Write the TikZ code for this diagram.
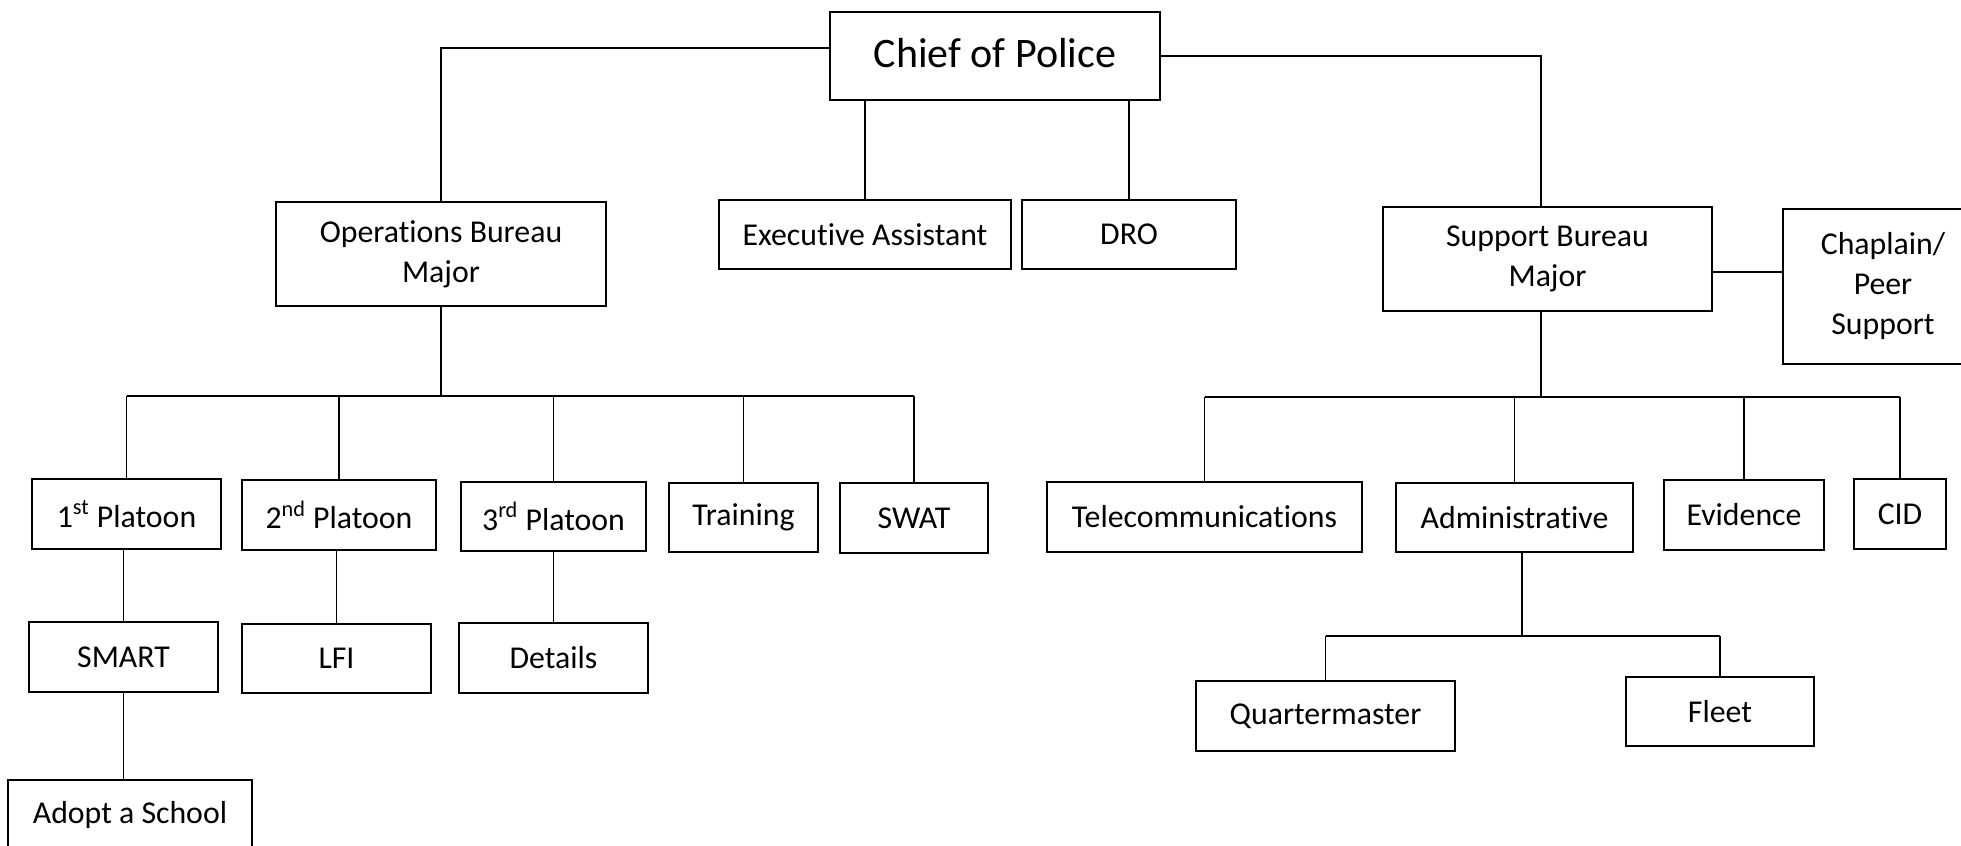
\documentclass[tikz,border=0pt]{standalone}
\usepackage{fontspec}
\setmainfont{Carlito}[Ligatures=NoCommon]
\tikzset{
  unit/.style={draw, line width=1pt, inner sep=0pt, align=center, font=\fontsize{15.9}{20}\selectfont},
  link/.style={line width=0.65pt},
}
\begin{document}
\begin{tikzpicture}[x=0.5pt,y=-0.5pt]
\useasboundingbox (0,0) rectangle (1961,846);
% top level
\node (chief)[unit, minimum width=165pt, minimum height=44pt, font=\fontsize{21}{25}\selectfont] at (995,56) {\raisebox{3.5pt}{Chief of Police}};
\node (ops)[unit, minimum width=165pt, minimum height=52pt] at (441,254) {Operations Bureau\\Major};
\node (exa)[unit, minimum width=146pt, minimum height=34.5pt] at (865,234.5) {Executive Assistant};
\node (dro)[unit, minimum width=107pt, minimum height=34.5pt] at (1129,234.5) {DRO};
\node (sup)[unit, minimum width=164.5pt, minimum height=52pt] at (1547.5,259) {Support Bureau\\Major};
\node (chap)[unit, minimum width=100pt, minimum height=77.5pt] at (1883,286.5) {Chaplain/\\Peer\\Support};

% operations
\node (p1)[unit, minimum width=94.5pt, minimum height=35pt] at (126.5,514) {1\textsuperscript{st} Platoon};
\node (p2)[unit, minimum width=97pt, minimum height=35pt] at (339,515) {2\textsuperscript{nd} Platoon};
\node (p3)[unit, minimum width=92.5pt, minimum height=34.5pt] at (553.5,516.5) {3\textsuperscript{rd} Platoon};
\node (trn)[unit, minimum width=74.5pt, minimum height=34.5pt] at (743.5,517.5) {Training};
\node (swat)[unit, minimum width=74pt, minimum height=35pt] at (914,518) {SWAT};
\node (smart)[unit, minimum width=94.5pt, minimum height=35pt] at (123.5,657) {SMART};
\node (lfi)[unit, minimum width=94.5pt, minimum height=34.5pt] at (336.5,658.5) {LFI};
\node (det)[unit, minimum width=94.5pt, minimum height=35pt] at (553.5,658) {Details};
\node (adopt)[unit, minimum width=122pt, minimum height=35pt] at (130,815) {Adopt a School};

% support
\node (tel)[unit, minimum width=157.5pt, minimum height=35pt] at (1204.5,517) {Telecommunications};
\node (adm)[unit, minimum width=118.5pt, minimum height=34.5pt] at (1514.5,517.5) {Administrative};
\node (evi)[unit, minimum width=80pt, minimum height=35pt] at (1744,515) {Evidence};
\node (cid)[unit, minimum width=46pt, minimum height=35pt] at (1900,514) {CID};
\node (qm)[unit, minimum width=129.5pt, minimum height=35pt] at (1325.5,716) {Quartermaster};
\node (fleet)[unit, minimum width=94pt, minimum height=34.5pt] at (1720,711.5) {Fleet};

\coordinate (cl) at (830,48);
\coordinate (opsbar) at (441,396);
\coordinate (supbar) at (1541,397);
\coordinate (chapl) at (1712,272);
\coordinate (admbar) at (1522,636);

% connectors
\draw[link] (cl) -| (ops.north);
\draw[link] (chief.east) -| (supbar |- sup.north);
\draw[link] (exa.north |- chief.south) -- (exa.north);
\draw[link] (dro.north |- chief.south) -- (dro.north);
\draw[link] (chapl) -- (chap.west |- chapl);

\draw[link] (ops.south) -- (ops.south |- opsbar);
\draw[link] (p1.north |- opsbar) -- (swat.north |- opsbar);
\foreach \n in {p1,p2,p3,trn,swat}
  \draw[link] (\n.north |- opsbar) -- (\n.north);
\draw[link] (smart.north |- p1.south) -- (smart.north);
\draw[link] (lfi.north |- p2.south) -- (lfi.north);
\draw[link] (det.north |- p3.south) -- (det.north);
\draw[link] (smart.south) -- (smart.south |- adopt.north);

\draw[link] (supbar |- sup.south) -- (supbar);
\draw[link] (tel.north |- supbar) -- (cid.north |- supbar);
\foreach \n in {tel,adm,evi,cid}
  \draw[link] (\n.north |- supbar) -- (\n.north);
\draw[link] (admbar |- adm.south) -- (admbar);
\draw[link] (qm.north |- admbar) -- (fleet.north |- admbar);
\foreach \n in {qm,fleet}
  \draw[link] (\n.north |- admbar) -- (\n.north);
\end{tikzpicture}
\end{document}
